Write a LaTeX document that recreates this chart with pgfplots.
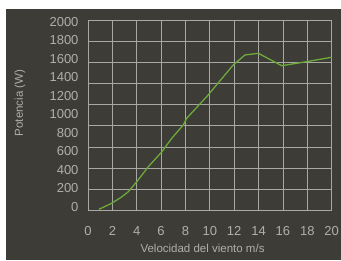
\documentclass[border=0pt]{standalone}
\usepackage{pgfplots}
\pgfplotsset{compat=1.18}
\usepackage{fontspec}
\setmainfont{Liberation Sans}
\definecolor{bg}{RGB}{62,60,55}
\definecolor{gridc}{RGB}{168,168,165}
\definecolor{txt}{RGB}{175,175,172}
\definecolor{curve}{RGB}{108,170,58}
\begin{document}
\begin{tikzpicture}[x=1pt,y=1pt]
\useasboundingbox (0,0) rectangle (341,261);
\fill[white] (0,0) rectangle (341,261);
\fill[bg] (6,1) rectangle (341,252);
\begin{axis}[
  at={(88pt,50.3pt)}, anchor=south west,
  scale only axis, width=243.7pt, height=190.7pt,
  xmin=0, xmax=20, ymin=-43, ymax=2018,
  xtick={0,2,...,20},
  ytick={-43,186,415,644,873,1102,1331,1560,1789,2018},
  yticklabels={},
  extra y ticks={0,200,400,600,800,1000,1200,1400,1600,1800,2000},
  extra y tick style={grid=none, major tick length=0pt},
  extra y tick labels={0,200,400,600,800,1000,1200,1400,1600,1800,2000},
  grid=major,
  major grid style={gridc, line width=0.9pt},
  axis line style={gridc, line width=0.9pt},
  major tick length=0pt,
  tick style={draw=none},
  /pgf/number format/assume math mode=true,
  ticklabel style={font=\fontsize{13}{13}\selectfont, text=txt},
  xticklabel style={yshift=-12pt},
  yticklabel style={xshift=-6pt},
  xlabel={Velocidad del viento m/s},
  ylabel={Potencia (W)},
  label style={font=\fontsize{11.5}{12}\selectfont, text=txt},
  xlabel style={at={(axis description cs:0.47,0)}, anchor=center, yshift=-38pt},
  ylabel style={at={(axis description cs:0,0.565)}, anchor=center, yshift=68pt},
]
\addplot[curve, line width=1.3pt, line join=round] coordinates {
(0.90,-28) (1.94,37) (2.70,100) (3.31,162) (4.00,270) (4.95,432) (6.07,595) (6.87,739)
(7.82,883) (8.10,956) (9.74,1189) (11.92,1532) (12.88,1640) (13.98,1658)
(15.90,1524) (17.95,1568) (20.0,1615)
};
\end{axis}
\end{tikzpicture}
\end{document}
